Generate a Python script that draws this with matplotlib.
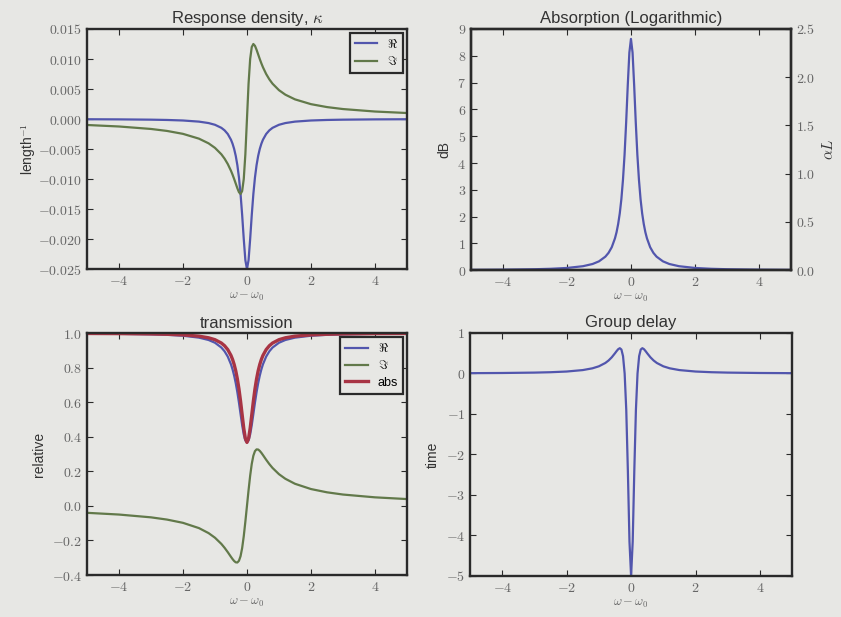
import matplotlib
matplotlib.use("Agg")
import matplotlib.pyplot as plt
from matplotlib.ticker import FuncFormatter

# ---------------- data ----------------
detuning = [-5, -4, -3, -2.5, -2, -1.5, -1.2, -1, -0.8, -0.7, -0.6, -0.5, -0.45, -0.4,
            -0.35, -0.3, -0.25, -0.2, -0.15, -0.1, -0.05, 0,
            0.05, 0.1, 0.15, 0.2, 0.25, 0.3, 0.35, 0.4, 0.45, 0.5, 0.6, 0.7, 0.8,
            1, 1.2, 1.5, 2, 2.5, 3, 4, 5]

kappa_re = [-0.00004, -0.000062, -0.000111, -0.000159, -0.000248, -0.000437, -0.000676,
            -0.000962, -0.001471, -0.001887, -0.0025, -0.003448, -0.004124, -0.005,
            -0.006154, -0.007692, -0.009756, -0.0125, -0.016, -0.02, -0.023529, -0.025,
            -0.023529, -0.02, -0.016, -0.0125, -0.009756, -0.007692, -0.006154, -0.005,
            -0.004124, -0.003448, -0.0025, -0.001887, -0.001471, -0.000962, -0.000676,
            -0.000437, -0.000248, -0.000159, -0.000111, -0.000062, -0.00004]

kappa_im = [-0.000998, -0.001247, -0.001659, -0.001987, -0.002475, -0.003275, -0.004054,
            -0.004808, -0.005882, -0.006604, -0.0075, -0.008621, -0.009278, -0.01,
            -0.010769, -0.011538, -0.012195, -0.0125, -0.012, -0.01, -0.005882, 0.0,
            0.005882, 0.01, 0.012, 0.0125, 0.012195, 0.011538, 0.010769, 0.01,
            0.009278, 0.008621, 0.0075, 0.006604, 0.005882, 0.004808, 0.004054,
            0.003275, 0.002475, 0.001987, 0.001659, 0.001247, 0.000998]

absorption_db = [0.0138, 0.0215, 0.0382, 0.0548, 0.0854, 0.151, 0.233, 0.332, 0.507, 0.65,
                 0.86, 1.19, 1.42, 1.725, 2.12, 2.65, 3.37, 4.31, 5.52, 6.90, 8.12, 8.63,
                 8.12, 6.90, 5.52, 4.31, 3.37, 2.65, 2.12, 1.725, 1.42, 1.19, 0.86, 0.65,
                 0.507, 0.332, 0.233, 0.151, 0.0854, 0.0548, 0.0382, 0.0215, 0.0138]

trans_re = [0.9976, 0.9963, 0.9934, 0.9905, 0.9853, 0.9742, 0.9606, 0.9446, 0.9169, 0.8951,
            0.8644, 0.8199, 0.7903, 0.7541, 0.7103, 0.6582, 0.5980, 0.5323, 0.4677, 0.4139,
            0.3794, 0.3679,
            0.3794, 0.4139, 0.4677, 0.5323, 0.5980, 0.6582, 0.7103, 0.7541, 0.7903, 0.8199,
            0.8644, 0.8951, 0.9169, 0.9446, 0.9606, 0.9742, 0.9853, 0.9905, 0.9934, 0.9963,
            0.9976]

trans_im = [-0.0398, -0.0498, -0.0660, -0.0789, -0.0978, -0.1283, -0.1572, -0.1839, -0.2198,
            -0.2421, -0.2674, -0.2946, -0.3076, -0.3188, -0.3265, -0.3273, -0.3173, -0.2908,
            -0.2435, -0.1750, -0.0910, 0.0,
            0.0910, 0.1750, 0.2435, 0.2908, 0.3173, 0.3273, 0.3265, 0.3188, 0.3076, 0.2946,
            0.2674, 0.2421, 0.2198, 0.1839, 0.1572, 0.1283, 0.0978, 0.0789, 0.0660, 0.0498,
            0.0398]

trans_abs = [0.9984, 0.9975, 0.9956, 0.9937, 0.9901, 0.9827, 0.9733, 0.9623, 0.9429, 0.9273,
             0.9048, 0.8712, 0.8480, 0.8187, 0.7818, 0.7351, 0.6769, 0.6065, 0.5273, 0.4493,
             0.3902, 0.3679,
             0.3902, 0.4493, 0.5273, 0.6065, 0.6769, 0.7351, 0.7818, 0.8187, 0.8480, 0.8712,
             0.9048, 0.9273, 0.9429, 0.9623, 0.9733, 0.9827, 0.9901, 0.9937, 0.9956, 0.9975,
             0.9984]

group_delay = [0.008, 0.0124, 0.0219, 0.0314, 0.0485, 0.0843, 0.1278, 0.1775, 0.2595, 0.3204,
               0.4, 0.4994, 0.5527, 0.6, 0.6249, 0.5917, 0.4283, 0.0, -0.896, -2.4, -4.152, -5.0,
               -4.152, -2.4, -0.896, 0.0, 0.4283, 0.5917, 0.6249, 0.6, 0.5527, 0.4994, 0.4,
               0.3204, 0.2595, 0.1775, 0.1278, 0.0843, 0.0485, 0.0314, 0.0219, 0.0124, 0.008]

x_ticks = [-4, -2, 0, 2, 4]
kappa_ticks = [-0.025, -0.020, -0.015, -0.010, -0.005, 0.000, 0.005, 0.010, 0.015]
db_ticks = [0, 1, 2, 3, 4, 5, 6, 7, 8, 9]
alphaL_ticks = [0.0, 0.5, 1.0, 1.5, 2.0, 2.5]
trans_ticks = [-0.4, -0.2, 0.0, 0.2, 0.4, 0.6, 0.8, 1.0]
delay_ticks = [-5, -4, -3, -2, -1, 0, 1]

# ---------------- style ----------------
BG = "#e7e7e4"
BLUE = "#5256ad"
GREEN = "#62794a"
RED = "#a83444"
TXT = "#333333"
TICKC = "#666666"
SPINE = "#2a2a2a"

plt.rcParams["font.family"] = ["Liberation Sans", "DejaVu Sans"]
plt.rcParams["mathtext.fontset"] = "cm"
plt.rcParams["xtick.direction"] = "in"
plt.rcParams["ytick.direction"] = "in"
plt.rcParams["xtick.top"] = True
plt.rcParams["ytick.right"] = True
plt.rcParams["xtick.major.size"] = 4.5
plt.rcParams["ytick.major.size"] = 4.5
plt.rcParams["xtick.labelsize"] = 10
plt.rcParams["ytick.labelsize"] = 10
plt.rcParams["xtick.labelcolor"] = TICKC
plt.rcParams["ytick.labelcolor"] = TICKC
plt.rcParams["xtick.color"] = SPINE
plt.rcParams["ytick.color"] = SPINE
plt.rcParams["axes.edgecolor"] = SPINE
plt.rcParams["axes.linewidth"] = 1.7


def mfmt(spec):
    def f(v, pos):
        s = spec % v
        return "$" + s + "$"
    return FuncFormatter(f)


def style_legend(leg):
    fr = leg.get_frame()
    fr.set_edgecolor(SPINE)
    fr.set_linewidth(1.6)
    fr.set_facecolor(BG)
    fr.set_alpha(1)


fig = plt.figure(figsize=(8.41, 6.17), dpi=100, facecolor=BG)

ax1 = fig.add_axes([0.1034, 0.564, 0.3805, 0.389], facecolor=BG)
ax2 = fig.add_axes([0.560, 0.562, 0.3805, 0.391], facecolor=BG)
ax3 = fig.add_axes([0.1034, 0.068, 0.3805, 0.392], facecolor=BG)
ax4 = fig.add_axes([0.5589, 0.0665, 0.383, 0.3938], facecolor=BG)

xlabel = r"$\omega - \omega_0$"

# Panel 1
ax1.plot(detuning, kappa_re, color=BLUE, lw=1.6, label=r"$\Re$")
ax1.plot(detuning, kappa_im, color=GREEN, lw=1.6, label=r"$\Im$")
ax1.set_ylim(-0.025, 0.015)
ax1.set_yticks(kappa_ticks)
ax1.yaxis.set_major_formatter(mfmt("%.3f"))
ax1.set_title(r"Response density, $\kappa$", fontsize=12, color=TXT, pad=4)
ax1.set_ylabel(r"length$^{-1}$", fontsize=10, color=TXT, labelpad=0)
leg = ax1.legend(loc="upper right", fontsize=9, frameon=True, fancybox=False,
                 handlelength=1.8, borderaxespad=0.3, labelspacing=0.35)
style_legend(leg)

# Panel 2
ax2.plot(detuning, absorption_db, color=BLUE, lw=1.6)
ax2.set_ylim(0, 9)
ax2.set_yticks(db_ticks)
ax2.yaxis.set_major_formatter(mfmt("%d"))
ax2.set_title("Absorption (Logarithmic)", fontsize=12, color=TXT, pad=4)
ax2.set_ylabel("dB", fontsize=10, color=TXT)
ax2b = ax2.twinx()
ax2b.set_ylim(0, 2.5)
ax2b.set_yticks(alphaL_ticks)
ax2b.yaxis.set_major_formatter(mfmt("%.1f"))
ax2b.tick_params(direction="in", right=True, left=False)
ax2b.set_ylabel(r"$\alpha L$", fontsize=11, color=TXT)

# Panel 3
ax3.plot(detuning, trans_re, color=BLUE, lw=1.6, label=r"$\Re$")
ax3.plot(detuning, trans_im, color=GREEN, lw=1.6, label=r"$\Im$")
ax3.plot(detuning, trans_abs, color=RED, lw=2.4, label="abs")
ax3.set_ylim(-0.4, 1.0)
ax3.set_yticks(trans_ticks)
ax3.yaxis.set_major_formatter(mfmt("%.1f"))
ax3.set_title("transmission", fontsize=12, color=TXT, pad=4)
ax3.set_ylabel("relative", fontsize=10, color=TXT)
leg3 = ax3.legend(loc="upper right", fontsize=9, frameon=True, fancybox=False,
                  handlelength=1.8, borderaxespad=0.3, labelspacing=0.35)
style_legend(leg3)

# Panel 4
ax4.plot(detuning, group_delay, color=BLUE, lw=1.6)
ax4.set_ylim(-5, 1)
ax4.set_yticks(delay_ticks)
ax4.yaxis.set_major_formatter(mfmt("%d"))
ax4.set_title("Group delay", fontsize=12, color=TXT, pad=4)
ax4.set_ylabel("time", fontsize=10, color=TXT)

for ax in (ax1, ax2, ax3, ax4):
    ax.set_xlim(-5, 5)
    ax.set_xticks(x_ticks)
    ax.xaxis.set_major_formatter(mfmt("%d"))
    ax.set_xlabel(xlabel, fontsize=9, color="#666666", labelpad=2)

fig.savefig("out.png", dpi=100, facecolor=BG)
